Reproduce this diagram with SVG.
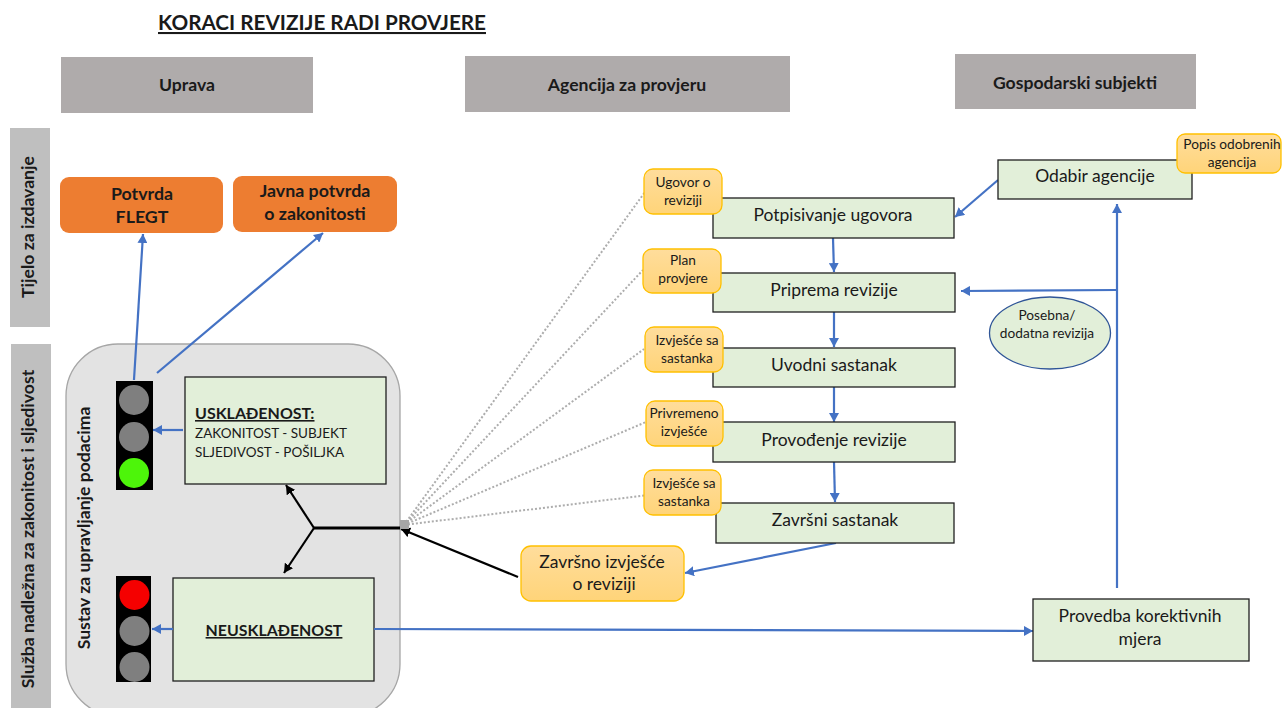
<svg xmlns="http://www.w3.org/2000/svg" width="1282" height="708" viewBox="0 0 1282 708">
<style>
text{font-family:"Lato","Liberation Sans",sans-serif;fill:#1a1a1a;text-anchor:middle}
.h{fill:#AFABAB}.s{fill:#BFBFBF}
.ht{font-weight:700;font-size:17.6px}
.st{font-weight:700;font-size:17.600px}
.o{fill:#ED7D31}.ot{font-weight:700;font-size:17.800px}
.g{fill:#E2EFD9;stroke:#1f1f1f;stroke-width:1.3}
.gt{font-size:17.500px}
.n{fill:url(#ng);stroke:#FFC000;stroke-width:1.3}
.nt{font-size:13.700px}
.b{fill:none;stroke:#4472C4;stroke-width:2.2;marker-end:url(#ab)}
.k{fill:none;stroke:#000;stroke-width:2.2}
.ka{marker-end:url(#ak)}
.d{fill:none;stroke:#ADADAD;stroke-width:2;stroke-dasharray:2 2}
.c{fill:#7F7F7F}
</style>
<defs>
<linearGradient id="ng" x1="0" y1="0" x2="0" y2="1"><stop offset="0" stop-color="#FFDD9C"/><stop offset="1" stop-color="#FFD479"/></linearGradient>
<marker id="ab" markerUnits="userSpaceOnUse" markerWidth="10" markerHeight="10" refX="9" refY="5" orient="auto"><path d="M0 0L9 5L0 10z" fill="#4472C4"/></marker>
<marker id="ak" markerUnits="userSpaceOnUse" markerWidth="10" markerHeight="10" refX="9" refY="5" orient="auto"><path d="M0 0L9 5L0 10z" fill="#000"/></marker>
</defs>

<text x="322" y="30" style="font-weight:700;font-size:20.700px;text-decoration:underline">KORACI REVIZIJE RADI PROVJERE</text>

<g id="hdr-uprava"><rect class="h" x="61" y="57" width="252" height="56"/><text class="ht" x="187" y="91">Uprava</text></g>
<g id="hdr-agencija"><rect class="h" x="465" y="56" width="325" height="56"/><text class="ht" x="627" y="91">Agencija za provjeru</text></g>
<g id="hdr-gospodarski"><rect class="h" x="955" y="54" width="241" height="55"/><text class="ht" x="1075" y="89">Gospodarski subjekti</text></g>

<g id="side-tijelo"><rect class="s" x="10" y="128" width="40" height="199"/><text class="st" transform="translate(34 227) rotate(-90)">Tijelo za izdavanje</text></g>
<g id="side-sluzba"><rect class="s" x="11" y="344" width="40" height="364"/><text class="st" transform="translate(34 529) rotate(-90)">Služba nadležna za zakonitost i sljedivost</text></g>

<g id="sustav"><rect x="66" y="344" width="334" height="372" rx="52" fill="#E3E3E3" stroke="#A6A6A6" stroke-width="1.3"/><text class="st" transform="translate(90 528) rotate(-90)">Sustav za upravljanje podacima</text></g>

<g id="potvrda-flegt"><rect class="o" x="60" y="177" width="163" height="56" rx="9"/><text class="ot" x="142" y="200">Potvrda</text><text class="ot" x="142" y="223">FLEGT</text></g>
<g id="javna-potvrda"><rect class="o" x="233" y="176" width="164" height="56" rx="9"/><text class="ot" x="315" y="197">Javna potvrda</text><text class="ot" x="315" y="220">o zakonitosti</text></g>

<g id="semafor-zeleni"><rect x="116" y="381" width="37" height="109" fill="#000"/><circle class="c" cx="134" cy="400" r="15"/><circle class="c" cx="134" cy="437" r="15"/><circle cx="134" cy="473" r="15" fill="#4DF50A"/></g>
<g id="semafor-crveni"><rect x="116" y="576" width="35" height="106" fill="#000"/><circle cx="134.500" cy="595" r="15" fill="#F50000"/><circle class="c" cx="134.500" cy="631" r="15"/><circle class="c" cx="134.500" cy="667" r="15"/></g>

<g id="uskladenost"><rect class="g" x="185" y="377" width="201" height="107"/><text x="195" y="419" style="text-anchor:start;font-weight:700;font-size:16px;text-decoration:underline">USKLAĐENOST:</text><text x="195" y="438" style="text-anchor:start;font-size:13.500px">ZAKONITOST - SUBJEKT</text><text x="195" y="457" style="text-anchor:start;font-size:13.500px">SLJEDIVOST - POŠILJKA</text></g>
<g id="neuskladenost"><rect class="g" x="173" y="578" width="201" height="103"/><text x="274" y="636" style="font-weight:700;font-size:15.900px;text-decoration:underline">NEUSKLAĐENOST</text></g>

<g id="connectors">
<path class="d" d="M404 525L645 192"/>
<path class="d" d="M404 525L643 270"/>
<path class="d" d="M404 525L644 349"/>
<path class="d" d="M404 525L646 422"/>
<path class="d" d="M404 525L648 495"/>
<path class="b" d="M134 380L143 234"/>
<path class="b" d="M157 373L323 233"/>
<path class="b" d="M183 430L153 430"/>
<path class="b" d="M173 629L152 629"/>
<path class="b" d="M374 629L1033 631"/>
<path class="b" d="M1117 588L1117 204"/>
<path class="b" d="M1117 290L961 291"/>
<path class="b" d="M998 180L955 217"/>
<path class="b" d="M833 238L834 272"/>
<path class="b" d="M834 312L834 347"/>
<path class="b" d="M834 387L834 422"/>
<path class="b" d="M834 462L835 502"/>
<path class="b" d="M836 543L685 573"/>
<path class="k ka" d="M518 577L401 529"/>
<path class="k" style="stroke-width:3" d="M400 528L314 528"/>
<path class="k ka" d="M314 528L286 485"/>
<path class="k ka" d="M314 528L284 573"/>
<rect x="400" y="520" width="9" height="9" fill="#A6A6A6"/>
</g>

<g id="potpisivanje"><rect class="g" x="713" y="198" width="241" height="40"/><text class="gt" x="833" y="221">Potpisivanje ugovora</text></g>
<g id="priprema"><rect class="g" x="713" y="273" width="242" height="39"/><text class="gt" x="834" y="296">Priprema revizije</text></g>
<g id="uvodni"><rect class="g" x="713" y="348" width="242" height="39"/><text class="gt" x="834" y="371">Uvodni sastanak</text></g>
<g id="provodenje"><rect class="g" x="713" y="422" width="242" height="40"/><text class="gt" x="834" y="446">Provođenje revizije</text></g>
<g id="zavrsni"><rect class="g" x="716" y="503" width="238" height="40"/><text class="gt" x="835" y="526">Završni sastanak</text></g>
<g id="odabir"><rect class="g" x="998" y="160" width="194" height="39"/><text class="gt" x="1095" y="182">Odabir agencije</text></g>
<g id="provedba"><rect class="g" x="1033" y="599" width="216" height="62"/><text class="gt" x="1140" y="622">Provedba korektivnih</text><text class="gt" x="1140" y="645">mjera</text></g>

<g id="n-ugovor"><rect class="n" x="644" y="169" width="78" height="45" rx="9"/><text class="nt" x="683" y="187">Ugovor o</text><text class="nt" x="683" y="205">reviziji</text></g>
<g id="n-plan"><rect class="n" x="643" y="249" width="78" height="44" rx="9"/><text class="nt" x="683" y="265">Plan</text><text class="nt" x="683" y="283">provjere</text></g>
<g id="n-izvjesce1"><rect class="n" x="645" y="327" width="78" height="45" rx="9"/><text class="nt" x="687" y="345">Izvješće sa</text><text class="nt" x="687" y="363">sastanka</text></g>
<g id="n-privremeno"><rect class="n" x="646" y="401" width="77" height="45" rx="9"/><text class="nt" x="684" y="418">Privremeno</text><text class="nt" x="684" y="436">izvješće</text></g>
<g id="n-izvjesce2"><rect class="n" x="644" y="470" width="77" height="45" rx="9"/><text class="nt" x="684" y="488">Izvješće sa</text><text class="nt" x="684" y="506">sastanka</text></g>
<g id="n-zavrsno"><rect class="n" x="521" y="546" width="163" height="55" rx="10"/><text class="gt" x="602" y="568">Završno izvješće</text><text class="gt" x="604" y="590">o reviziji</text></g>
<g id="n-popis"><rect class="n" x="1177" y="134" width="104" height="39" rx="8"/><text class="nt" x="1232" y="149">Popis odobrenih</text><text class="nt" x="1232" y="167">agencija</text></g>
<g id="posebna"><ellipse cx="1050" cy="333" rx="60.500" ry="36" fill="#E2EFD9" stroke="#2F5597" stroke-width="1.3"/><text class="nt" x="1047" y="320">Posebna/</text><text class="nt" x="1047" y="338">dodatna revizija</text></g>
</svg>
